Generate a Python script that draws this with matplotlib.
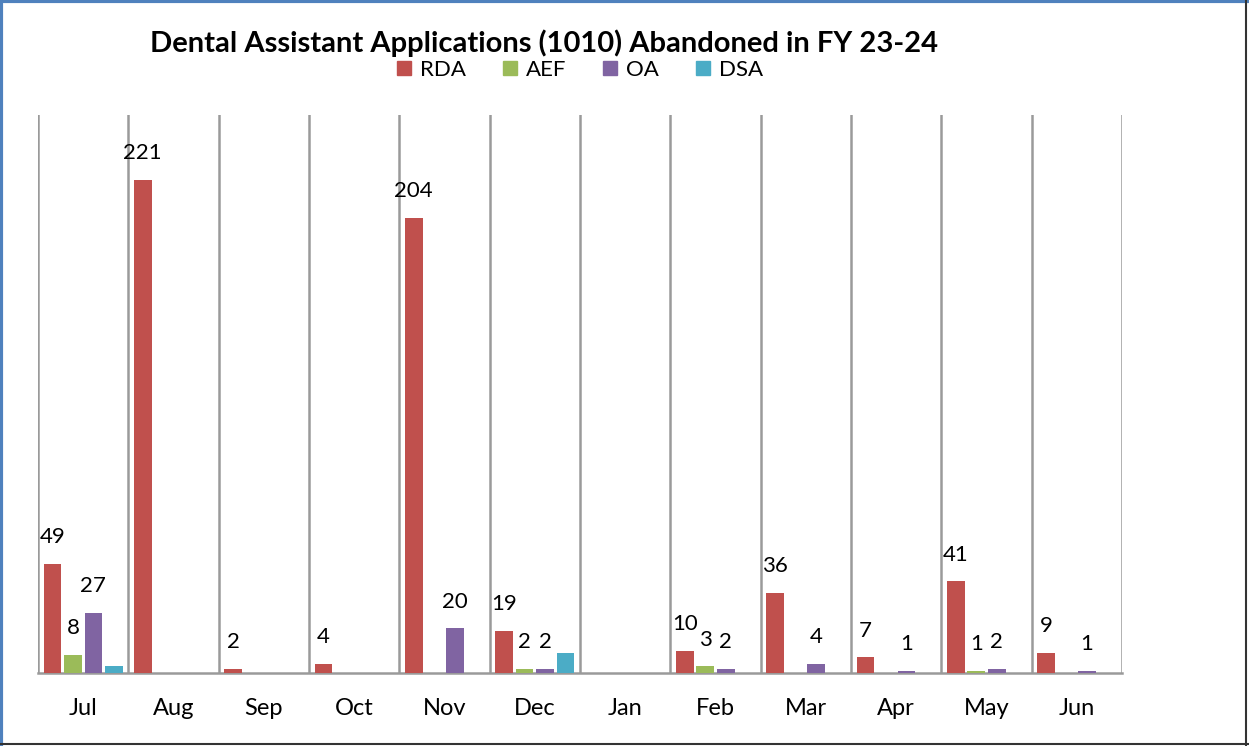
import matplotlib
matplotlib.use("Agg")
import matplotlib.pyplot as plt
import numpy as np
from matplotlib.lines import Line2D

plt.rcParams['font.family'] = ['Lato', 'DejaVu Sans']

months = ["Jul", "Aug", "Sep", "Oct", "Nov", "Dec", "Jan", "Feb", "Mar", "Apr", "May", "Jun"]
series_names = ["RDA", "AEF", "OA", "DSA"]
rda = [49, 221, 2, 4, 204, 19, 0, 10, 36, 7, 41, 9]
aef = [8, 0, 0, 0, 0, 2, 0, 3, 0, 0, 1, 0]
oa = [27, 0, 0, 0, 20, 2, 0, 2, 4, 1, 2, 1]
dsa = [3, 0, 0, 0, 0, 9, 0, 0, 0, 0, 0, 0]
colors = ["#C0504D", "#9BBB59", "#8064A2", "#4BACC6"]
show_labels = [True, True, True, False]

W, H = 1249, 746
fig = plt.figure(figsize=(W / 100, H / 100), dpi=100)
ax = fig.add_axes([38 / W, 1 - 673 / H, (1122 - 38) / W, (673 - 115) / H])

x = np.arange(len(months))
step = 0.227
bw = 0.194
data = [rda, aef, oa, dsa]
for i, (vals, c, lab) in enumerate(zip(data, colors, show_labels)):
    pos = x + (i - 1.5) * step
    ax.bar(pos, vals, width=bw, color=c, label=series_names[i], zorder=3)
    if lab:
        for p, v in zip(pos, vals):
            if v:
                ax.annotate(str(v), (p, v), xytext=(0, 12), textcoords="offset points",
                            ha="center", va="bottom", fontsize=16, color="black")

ax.set_xlim(-0.5, len(months) - 0.5)
ax.set_ylim(0, 250)
ax.set_yticks([])
ax.set_xticks(x)
ax.set_xticklabels(months, fontsize=17)
ax.tick_params(axis="x", length=0, pad=18)
for b in np.arange(-0.5, len(months), 1.0):
    ax.axvline(b, color="#9a9a9a", lw=1.8, zorder=1)
for s in ["top", "right", "left"]:
    ax.spines[s].set_visible(False)
ax.spines["bottom"].set_color("#9a9a9a")
ax.spines["bottom"].set_linewidth(1.8)

fig.text(544 / W, 1 - 43 / H, "Dental Assistant Applications (1010) Abandoned in FY 23-24",
         ha="center", va="center", fontsize=21, fontweight="bold")

handles = [Line2D([], [], marker="s", linestyle="", markersize=10, color=c) for c in colors]
fig.legend(handles, series_names, loc="center", bbox_to_anchor=(578 / W, 1 - 70 / H),
           ncol=4, frameon=False, fontsize=16, handletextpad=0.2, columnspacing=1.5,
           handlelength=1.0, borderpad=0.1)

# outer border
fig.add_artist(Line2D([0.5 / W, 0.5 / W], [0, 1], transform=fig.transFigure, color="#4F81BD", lw=3))
fig.add_artist(Line2D([0, 1], [1 - 1 / H, 1 - 1 / H], transform=fig.transFigure, color="#4F81BD", lw=3))
fig.add_artist(Line2D([1 - 3 / W, 1 - 3 / W], [0, 1], transform=fig.transFigure, color="#333333", lw=1.5))
fig.add_artist(Line2D([0, 1], [2 / H, 2 / H], transform=fig.transFigure, color="#333333", lw=1.5))

fig.savefig("out.png", dpi=100)
